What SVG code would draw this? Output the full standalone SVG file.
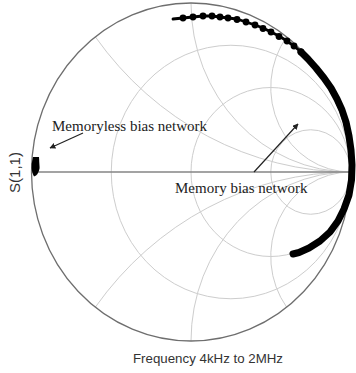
<svg xmlns="http://www.w3.org/2000/svg" width="356" height="373" viewBox="0 0 356 373">
<style>
.grid{fill:none;stroke:#cdcdcd;stroke-width:1}
.outer{fill:none;stroke:#6e6e6e;stroke-width:1.3}
.axis{stroke:#858585;stroke-width:1.4}
.trace{fill:none;stroke:#000;stroke-linecap:round;stroke-linejoin:round}
.lbl{font-family:"Liberation Serif","Times New Roman",serif;font-size:15px;fill:#222}
.ax{font-family:"Liberation Sans",Arial,sans-serif;fill:#333}
.arr{stroke:#222;stroke-width:1.2;fill:none}
</style>
<defs>
<marker id="ah" viewBox="0 0 10 10" refX="9" refY="5" markerWidth="6" markerHeight="6" markerUnits="userSpaceOnUse" orient="auto">
<path d="M0,0 L10,5 L0,10 Z" fill="#222"/>
</marker>
</defs>
<rect width="356" height="373" fill="#fff"/>
<g id="grid">
<ellipse class="grid" cx="230.875" cy="172" rx="119.625" ry="126.75"/>
<ellipse class="grid" cx="270.75" cy="172" rx="79.75" ry="84.5"/>
<ellipse class="grid" cx="310.625" cy="172" rx="39.875" ry="42.25"/>
<path class="grid" d="M350.5,172 A319,338 0 0 1 95.3,36.8"/>
<path class="grid" d="M350.5,172 A319,338 0 0 0 95.3,307.2"/>
<path class="grid" d="M350.5,172 A159.5,169 0 0 1 191,3"/>
<path class="grid" d="M350.5,172 A159.5,169 0 0 0 191,341"/>
<path class="grid" d="M350.5,172 A79.75,84.5 0 0 1 286.7,36.8"/>
<path class="grid" d="M350.5,172 A79.75,84.5 0 0 0 286.7,307.2"/>
</g>
<g id="chart">
<ellipse class="outer" cx="191" cy="172" rx="159.5" ry="169"/>
<line class="axis" x1="31.5" y1="172" x2="350.5" y2="172"/>
</g>
<g id="memory-trace">
<path class="trace" stroke-width="2.8" d="M173,19 L183,18 L193,17 L203,16 L212,16 L220,17 L228,18 L237,19 L246,22 L255,25 L263,28 L271,32 L279,36 L287,41 L294,46 L301,52 L308,59"/>
<g fill="#000">
<circle cx="183" cy="18" r="3.4"/><circle cx="193" cy="17" r="3.4"/><circle cx="203" cy="16" r="3.4"/><circle cx="212" cy="16" r="3.4"/><circle cx="220" cy="17" r="3.4"/><circle cx="228" cy="18" r="3.4"/><circle cx="237" cy="19.5" r="3.4"/><circle cx="246" cy="22" r="3.4"/><circle cx="255" cy="25" r="3.4"/><circle cx="263" cy="28.5" r="3.4"/><circle cx="271" cy="32" r="3.4"/><circle cx="279" cy="36.5" r="3.4"/><circle cx="287" cy="41" r="3.4"/><circle cx="294" cy="46" r="3.4"/><circle cx="301" cy="52" r="3.4"/>
</g>
<path class="trace" stroke-width="7" d="M301,52 L308,59 L316,68 L324,78 L331,88 L337,99 L342,110 L346,122 L349,136 L351,150 L352,165 L351.5,180 L349,195 L344,209 L338,221 L330,232 L320,241 L309,248 L299,252.5 L293,254"/>
</g>
<g id="memoryless-trace">
<path d="M33,157 L39,157 L39.6,168 Q38.5,175 34,176.5 Q31.2,172 31.6,164 Z" fill="#000"/>
</g>
<g id="connectors">
<line class="arr" x1="83" y1="133" x2="50" y2="148" marker-end="url(#ah)"/>
<line class="arr" x1="254" y1="172" x2="298" y2="124" marker-end="url(#ah)"/>
</g>
<g id="labels">
<text class="lbl" x="52" y="131">Memoryless bias network</text>
<text class="lbl" x="175" y="193">Memory bias network</text>
<text class="ax" font-size="13.3" x="208" y="362.5" text-anchor="middle">Frequency 4kHz to 2MHz</text>
<text class="ax" font-size="15" transform="translate(19.5,172.5) rotate(-90)" text-anchor="middle">S(1,1)</text>
</g>
</svg>
